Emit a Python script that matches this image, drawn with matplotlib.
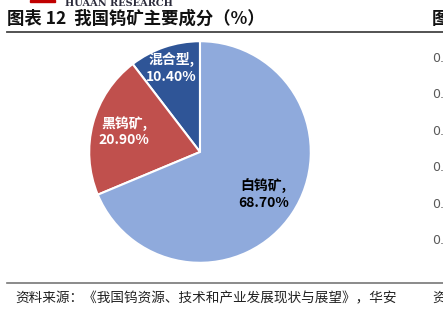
import numpy as np
import matplotlib.pyplot as plt

plt.rcParams['font.family'] = ['Noto Sans CJK SC', 'DejaVu Sans']

# data
labels = ['混合型', '黑钨矿', '白钨矿']
shares = [10.40, 20.90, 68.70]
colors = ['#2F5597', '#C0504D', '#8FAADC']
text_colors = ['white', 'white', 'black']
label_r = [0.80, 0.71, 0.69]
right_ticks = ['0.', '0.', '0.', '0.', '0.', '0.']

W, H = 443, 315
fig = plt.figure(figsize=(W / 100, H / 100), dpi=100)

def fx(px):
    return px / W

def fy(py):
    return 1 - py / H

# pie axes: centre (200,152), radius 113 px
cx, cy, r = 200, 152, 113
ax = fig.add_axes([fx(cx - r), fy(cy + r), 2 * r / W, 2 * r / H])
wedges, _ = ax.pie(shares, colors=colors, startangle=90, counterclock=True,
                   wedgeprops=dict(edgecolor='white', linewidth=1.5))
ax.set_xlim(-1.02, 1.02)
ax.set_ylim(-1.02, 1.02)
ax.set_aspect('equal')
ax.axis('off')

for w, lab, val, tc, lr in zip(wedges, labels, shares, text_colors, label_r):
    ang = np.deg2rad((w.theta1 + w.theta2) / 2)
    ax.text(lr * np.cos(ang), lr * np.sin(ang), f'{lab},\n{val:.2f}%',
            ha='center', va='center', color=tc, fontsize=10, fontweight='bold',
            linespacing=1.25)

# header
fig.patches.append(plt.Rectangle((fx(30), fy(2)), fx(25), 2 / H, color='#C00000',
                                 transform=fig.transFigure, figure=fig))
fig.text(fx(65), fy(3), 'HUAAN RESEARCH', fontsize=7, family='DejaVu Serif',
         color='#2b2b3b', va='center', ha='left', fontweight='bold')
fig.text(fx(7), fy(19), '图表 12  我国钨矿主要成分（%）', fontsize=12.5,
         fontweight='bold', va='center', ha='left', color='#111111')
fig.text(fx(432), fy(19), '图', fontsize=12.5, fontweight='bold',
         va='center', ha='left', color='#111111')
fig.add_artist(plt.Line2D([fx(7), 1], [fy(32), fy(32)], color='#444444', lw=1.3,
                          transform=fig.transFigure))

# right neighbouring chart ticks
for i, t in enumerate(right_ticks):
    fig.text(fx(432), fy(58 + i * 36.5), t, fontsize=9, color='#595959',
             va='center', ha='left', family='DejaVu Sans')

# footer
fig.add_artist(plt.Line2D([fx(7), 1], [fy(283), fy(283)], color='#777777', lw=1.2,
                          transform=fig.transFigure))
fig.text(fx(15), fy(298), '资料来源：《我国钨资源、技术和产业发展现状与展望》，华安',
         fontsize=9.8, va='center', ha='left', color='#222222')
fig.text(fx(432), fy(298), '资', fontsize=9.8, va='center', ha='left', color='#222222')

fig.savefig('out.png', dpi=100)
